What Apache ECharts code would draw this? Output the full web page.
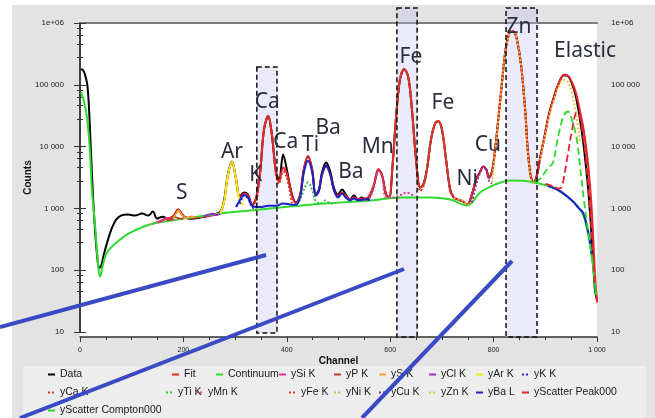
<!DOCTYPE html>
<html>
<head>
<meta charset="utf-8">
<script src="https://cdn.jsdelivr.net/npm/echarts@6/dist/echarts.min.js"></script>
<style>
  html, body { margin: 0; padding: 0; background: #fff; }
  #chart { width: 655px; height: 418px; }
</style>
</head>
<body>
<div id="chart"></div>
<script>
// spectrum values: [channel, counts]
const dataSpectrum = [
  [2,178000],[6,172000],[10,143000],[14,102000],[17,48400],[21,9000],[25,1680],[29,453],[33,178],[37,109],
  [41,118],[46,178],[54,310],[62,489],[70,658],[79,764],[93,795],[106,764],[120,825],[132,764],[141,887],
  [149,683],[160,736],[170,683],[180,736],[190,956],[201,736],[213,683],[232,709],[251,764],[271,887],
  [279,1390],[286,3530],[294,5750],[302,2940],[309,1560],[317,1810],[325,1680],[333,1150],[340,1390],
  [348,3530],[356,19000],[364,31000],[371,15800],[379,3950],[385,2940],[393,7470],[400,4260],[410,1680],
  [418,1240],[426,1680],[433,4260],[441,6950],[449,4260],[456,1680],[462,2020],[468,3800],[476,5540],
  [484,3950],[491,2180],[499,1680],[507,2020],[514,1680],[522,1390],[530,1610],[538,1390],[545,1500],
  [553,1390],[561,1610],[569,2430],[577,4260],[584,3530],[592,1680],[598,1500],[604,4260],[611,27500],
  [619,123000],[627,179000],[635,132000],[642,40000],[650,6200],[658,2180],[664,2430],[671,4260],
  [679,13100],[687,23800],[693,25700],[700,19000],[708,6200],[716,2020],[723,1500],[731,1390],[741,1290],
  [749,1150],[758,1680],[766,2940],[774,3950],[780,4770],[786,4260],[791,3160],[797,3950],[803,9000],
  [809,27500],[815,85400],[822,316000],[828,590000],[834,740000],[840,710000],[845,550000],[853,214000],
  [861,40000],[866,9000],[872,3280],[878,2620],[884,3530],[890,6690],[898,14100],[907,33300],[917,65300],
  [926,106000],[936,143000],[944,138000],[952,102000],[959,65300],[967,27500],[975,9000],[983,2020],
  [990,310],[996,48],[1000,33]
];
const fitSpectrum = [
  [140,560],[150,600],[160,650],[170,690],[178,720],[185,840],[190,960],[196,840],[203,720],[213,700],
  [232,720],[251,760],[271,860],[279,1350],[286,3400],[294,5600],[302,2900],[309,1500],[317,1750],
  [325,1620],[333,1150],[340,1400],[348,3600],[356,19500],[364,31500],[371,16000],[379,3800],[385,2700],
  [393,4600],[400,3700],[410,1600],[418,1200],[426,1700],[433,4400],[441,7000],[449,4300],[456,1650],
  [462,1900],[468,3400],[476,4700],[484,3500],[491,2000],[499,1600],[507,1800],[514,1600],[522,1400],
  [530,1500],[538,1400],[545,1450],[553,1450],[561,1700],[569,2500],[577,4300],[584,3500],[592,1700],
  [598,1500],[604,4300],[611,28000],[619,125000],[627,181000],[635,133000],[642,41000],[650,6300],
  [658,2200],[664,2400],[671,4300],[679,13300],[687,24000],[693,26000],[700,19200],[708,6300],[716,2000],
  [723,1500],[731,1400],[741,1300],[749,1150],[758,1700],[766,2900],[774,3900],[780,4700],[786,4200],
  [791,3100],[797,3900],[803,9000],[809,27500],[815,85000],[822,316000],[828,590000],[834,740000],
  [840,710000],[845,550000],[853,214000],[861,40000],[866,9000],[872,3200],[878,2600],[884,3400],
  [890,6400],[898,13500],[907,32000],[917,64000],[926,106000],[936,145000],[944,140000],[952,108000],
  [959,75000],[967,38000],[975,17000],[983,5000],[990,900],[996,90],[1000,30]
];
const continuum = [
  [2,75900],[8,52500],[14,27500],[19,9000],[23,2020],[29,549],[35,122],[39,78],[43,109],[50,178],
  [58,223],[77,310],[97,405],[135,549],[174,632],[213,709],[271,824],[329,921],[387,1030],[445,1150],
  [503,1240],[561,1340],[619,1500],[677,1500],[716,1390],[749,1110],[774,1810],[803,2430],[832,2830],
  [861,2780],[890,2510],[919,2100],[942,1560],[958,1200],[973,795],[983,376],[992,122],[998,40]
];
const ySiK = [[150,590],[158,620],[166,700],[174,660],[182,650]];
const yPK = [[168,640],[176,680],[184,720],[192,690],[200,680]];
const ySK = [[180,670],[187,850],[191,930],[196,800],[205,700],[215,740],[223,720]];
const yClK = [[240,740],[248,790],[256,820],[264,780],[272,830]];
const yArK = [[271,830],[279,1300],[286,3400],[294,5700],[302,2900],[309,1300],[317,1150]];
const yKK = [[302,1100],[309,1200],[317,1600],[325,1450],[333,1050],[341,980]];
const yCaK = [[340,1000],[348,3500],[356,19000],[364,31000],[371,15500],[379,3600],[385,2500],[393,4000],[400,3200],[410,1200]];
const yTiK = [[418,1150],[426,1400],[433,2000],[441,2640],[449,2000],[456,1300],[466,1200],[475,1340],[484,1200],[495,1220]];
const yMnK = [[553,1330],[561,1500],[569,2300],[577,4000],[584,3300],[592,1500],[605,1500],[620,1650],[632,1800],[645,1600]];
const yFeK = [[604,4000],[611,27000],[619,122000],[627,178000],[635,131000],[642,39000],[650,6000],[658,1900],
  [664,2200],[671,4100],[679,13000],[687,23500],[693,25500],[700,18800],[708,6000],[716,1800]];
const yNiK = [[723,1480],[731,1400],[741,1320],[749,1150],[758,1200]];
const yCuK = [[758,1250],[766,2400],[774,3800],[780,4700],[786,4100],[791,2800],[797,2500]];
const yZnK = [[797,2600],[803,8500],[809,27000],[815,84000],[822,310000],[828,580000],[834,730000],[840,700000],
  [845,540000],[853,210000],[861,38000],[866,8000],[872,3000],[878,2500],[884,null],
  [890,6000],[898,13000],[907,30000],[917,58000],[926,95000],[936,120000],[944,110000],[952,70000],[959,35000],[967,12000]];
const yBaL = [[302,1050],[309,1350],[317,1650],[325,1500],[333,1100],[348,1050],[364,1100],[379,1100],[393,1200],
  [410,1150],[418,1150],[426,1550],[433,3800],[441,5900],[449,3900],[456,1600],[462,1900],[468,3500],[476,5000],
  [484,3600],[491,2000],[499,1500],[507,1750],[514,1500],[522,1350],[530,1450],[538,1350],[553,1400],[561,1350],
  [600,null],[905,2300],[919,2100],[935,1750],[954,1280],[965,1000],[973,855],[983,420],[990,180]];
const yScatterPeak = [[900,2500],[915,2300],[925,2100],[932,2250],[942,6200],[952,19000],[961,36000],[967,30000],
  [973,15000],[979,6000],[985,1500],[991,300],[996,60]];
const yScatterCompton = [[880,2700],[890,3000],[903,4260],[915,5540],[922,11000],[928,19000],[936,32000],[944,37000],
  [952,26000],[961,13000],[967,5000],[975,1300],[983,420],[992,120]];

// element labels [text, channel, counts]
const peakLabels = [
  ['S',197,1800],['Ar',294,8050],['K',340,3530],['Ca',362,52000],['Ca',398,11700],['Ti',446,10500],
  ['Ba',480,19700],['Ba',524,3950],['Mn',576,9700],['Fe',640,280000],['Fe',702,50000],['Ni',749,2940],
  ['Cu',789,10500],['Zn',849,861000],['Elastic',977,351000]
];
// highlighted channel windows [from, to, top counts, bottom counts]
const windows = [[342,381,195000,9.6],[613,652,1.75e6,8.3],[824,884,1.75e6,8.3]];

const seriesDefs = [
  { name: 'Data', data: dataSpectrum, color: '#000000', type: 'solid', width: 2 },
  { name: 'Fit', data: fitSpectrum, color: '#e3262b', type: 'solid', width: 2 },
  { name: 'Continuum', data: continuum, color: '#2fd92f', type: 'solid', width: 2 },
  { name: 'ySi K', data: ySiK, color: '#e0308c', type: 'solid', width: 1.8 },
  { name: 'yP K', data: yPK, color: '#c0392b', type: 'solid', width: 1.8 },
  { name: 'yS K', data: ySK, color: '#f0a030', type: 'solid', width: 1.8 },
  { name: 'yCl K', data: yClK, color: '#9b27c8', type: 'solid', width: 1.8 },
  { name: 'yAr K', data: yArK, color: '#f2ec1c', type: 'solid', width: 2 },
  { name: 'yK K', data: yKK, color: '#2030c0', type: 'dotted', width: 2 },
  { name: 'yCa K', data: yCaK, color: '#e0302a', type: 'dotted', width: 2 },
  { name: 'yTi K', data: yTiK, color: '#3cc43c', type: 'dotted', width: 2 },
  { name: 'yMn K', data: yMnK, color: '#d04a8a', type: 'dotted', width: 2 },
  { name: 'yFe K', data: yFeK, color: '#d4452a', type: 'dotted', width: 2 },
  { name: 'yNi K', data: yNiK, color: '#e0b050', type: 'dotted', width: 2 },
  { name: 'yCu K', data: yCuK, color: '#8a2cb0', type: 'dotted', width: 2 },
  { name: 'yZn K', data: yZnK, color: '#f3c23a', type: 'dotted', width: 2 },
  { name: 'yBa L', data: yBaL, color: '#1a22c8', type: 'solid', width: 2 },
  { name: 'yScatter Peak000', data: yScatterPeak, color: '#e3262b', type: 'dashed', width: 1.8 },
  { name: 'yScatter Compton000', data: yScatterCompton, color: '#2fd92f', type: 'dashed', width: 1.8 }
];

// legend item placement [name, left, top]
const legendSlots = [
  ['Data',47,369],['Fit',171,369],['Continuum',215,369],['ySi K',278,369],['yP K',333,369],
  ['yS K',378,369],['yCl K',428,369],['yAr K',475,369],['yK K',521,369],
  ['yCa K',47,387],['yTi K',165,387],['yMn K',195,387],['yFe K',288,387],['yNi K',333,387],
  ['yCu K',378,387],['yZn K',428,387],['yBa L',475,387],['yScatter Peak000',521,387],
  ['yScatter Compton000',47,405]
];

function countLabel(v) {
  if (v >= 1e6) return '1e+06';
  return String(v).replace(/\B(?=(\d{3})+(?!\d))/g, ' ');
}

const axisColor = '#333';
const yAxisBase = {
  type: 'log',
  logBase: 10,
  min: 10,
  max: 1e6,
  axisLine: { show: true, lineStyle: { color: axisColor, width: 1.5 } },
  axisTick: { show: true, length: 6, lineStyle: { color: axisColor } },
  minorTick: { show: true, splitNumber: 5, length: 3, lineStyle: { color: axisColor } },
  splitLine: { show: false },
  minorSplitLine: { show: false },
  axisLabel: { fontSize: 8, color: '#222', formatter: countLabel }
};

const option = {
  animation: false,
  backgroundColor: '#e3e3e3',
  textStyle: { fontFamily: 'Liberation Sans' },
  grid: { left: 80, right: 58, top: 23, bottom: 86, containLabel: false },
  legend: legendSlots.map(([name, left, top]) => ({
    data: [{ name: name, lineStyle: name.startsWith('yScatter') ? { type: 'solid' } : undefined }],
    left: left,
    top: top,
    padding: 0,
    itemWidth: 7,
    itemHeight: 6,
    selectedMode: false,
    itemStyle: { opacity: 0 },
    textStyle: { fontSize: 10.5, color: '#1a1a1a', fontFamily: 'Liberation Sans' }
  })),
  xAxis: [
    {
      type: 'value',
      min: 0,
      max: 1000,
      interval: 200,
      position: 'bottom',
      offset: 5,
      name: 'Channel',
      nameLocation: 'middle',
      nameGap: 19,
      nameMoveOverlap: false,
      nameTextStyle: { fontWeight: 'bold', fontSize: 10, color: '#111' },
      axisLine: { show: true, lineStyle: { color: axisColor, width: 1.5 } },
      axisTick: { show: true, length: 5, lineStyle: { color: axisColor } },
      minorTick: { show: true, splitNumber: 4, length: 3, lineStyle: { color: axisColor } },
      splitLine: { show: false },
      axisLabel: { fontSize: 7, color: '#222', margin: 10, formatter: countLabel }
    },
    {
      type: 'value',
      min: 0,
      max: 1000,
      position: 'top',
      axisLine: { show: true, lineStyle: { color: '#7d7d7d', width: 2 } },
      axisTick: { show: false },
      axisLabel: { show: false },
      splitLine: { show: false }
    }
  ],
  yAxis: [
    Object.assign({}, yAxisBase, {
      position: 'left',
      offset: 2,
      name: 'Counts',
      nameLocation: 'middle',
      nameGap: 45,
      nameMoveOverlap: false,
      nameTextStyle: { fontWeight: 'bold', fontSize: 10, color: '#111' },
      axisLabel: Object.assign({}, yAxisBase.axisLabel, { margin: 14 })
    }),
    Object.assign({}, yAxisBase, {
      position: 'right',
      offset: 5,
      axisLabel: Object.assign({}, yAxisBase.axisLabel, { margin: 9 })
    })
  ],
  series: seriesDefs.map(s => ({
    name: s.name,
    type: 'line',
    data: s.data,
    xAxisIndex: 0,
    yAxisIndex: 0,
    symbol: 'none',
    showSymbol: false,
    smooth: 0.35,
    connectNulls: false,
    color: s.color,
    lineStyle: { color: s.color, width: s.width, type: s.type },
    z: s.name === 'Data' ? 2 : 3
  }))
};

const chart = echarts.init(document.getElementById('chart'));
chart.setOption(option);

// annotations placed through the chart's own scales
const toPx = (ch, cnt) => chart.convertToPixel({ seriesIndex: 0 }, [ch, cnt]);
const lo = toPx(0, 10);
const hi = toPx(1000, 1e6);
const graphics = [
  { type: 'rect', z: -5, shape: { x: 0, y: 0, width: 655, height: 5 }, style: { fill: '#ffffff' } },
  { type: 'rect', z: -5, shape: { x: 0, y: 0, width: 12, height: 418 }, style: { fill: '#ffffff' } },
  { type: 'rect', z: -4, shape: { x: 23, y: 366, width: 623, height: 52 }, style: { fill: '#ededed' } },
  { type: 'rect', z: -4, shape: { x: lo[0], y: hi[1] + 1, width: hi[0] - lo[0], height: lo[1] - hi[1] + 4 }, style: { fill: '#ffffff' } }
];
windows.forEach(([a, b, top, bottom]) => {
  const p1 = toPx(a, top);
  const p2 = toPx(b, bottom);
  graphics.push({ type: 'rect', z: 1, shape: { x: p1[0], y: p1[1], width: p2[0] - p1[0], height: p2[1] - p1[1] },
    style: { fill: 'rgba(190,190,240,0.32)' } });
  graphics.push({ type: 'rect', z: 20, shape: { x: p1[0], y: p1[1], width: p2[0] - p1[0], height: p2[1] - p1[1] },
    style: { fill: 'none', stroke: '#111', lineWidth: 1.5, lineDash: [5, 3] } });
});
peakLabels.forEach(([text, ch, cnt]) => {
  const p = toPx(ch, cnt);
  graphics.push({ type: 'text', z: 21, x: p[0], y: p[1],
    style: { text: text, fill: '#2a2d3c', font: '21px "Noto Sans"', align: 'center', verticalAlign: 'middle',
      textAlign: 'center', textVerticalAlign: 'middle' } });
});
// callout strokes from the windows down to the zoomed views below the chart
[[266, 255, 0, 327], [404, 269, 20, 418], [512, 261, 362, 418]].forEach(([x1, y1, x2, y2]) => {
  graphics.push({ type: 'line', z: 50, shape: { x1, y1, x2, y2 }, style: { stroke: '#3a4ac4', lineWidth: 4 } });
});
chart.setOption({ graphic: graphics });
</script>
</body>
</html>
